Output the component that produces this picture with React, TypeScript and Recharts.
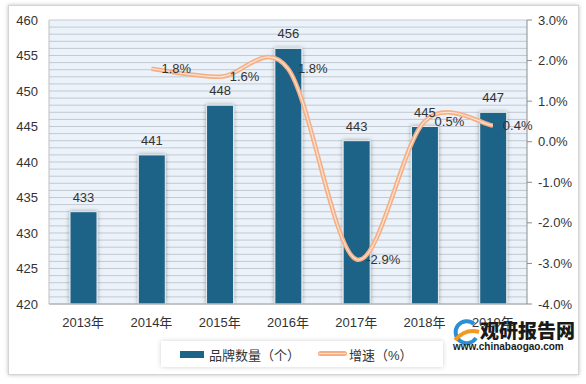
import React from 'react'
import {
  ComposedChart,
  Bar,
  Line,
  XAxis,
  YAxis,
  CartesianGrid,
  LabelList
} from 'recharts'

const years = ['2013年', '2014年', '2015年', '2016年', '2017年', '2018年', '2019年']
const brandCounts = [433, 441, 448, 456, 443, 445, 447]
const growthRates: (number | null)[] = [null, 1.8, 1.6, 1.8, -2.9, 0.5, 0.4]

const leftTicks = [420, 425, 430, 435, 440, 445, 450, 455, 460]
const rightTicks = [-4, -3, -2, -1, 0, 1, 2, 3]
// light grid lines, one per brand
const gridLines = Array.from({ length: 41 }, (_, i) => 420 + i)

const data = years.map((year, i) => ({
  year,
  count: brandCounts[i],
  growth: growthRates[i]
}))

const BAR = '#1B6387'
const LINE_OUT = '#F5AE85'
const LINE_IN = '#FCE1CF'
const FONT = "'Liberation Sans', 'Noto Sans CJK SC', sans-serif"

// smoothing close to what office charts draw (catmull-rom style)
function smoothCurve(context: any) {
  let pts: [number, number][] = []
  return {
    areaStart() {},
    areaEnd() {},
    lineStart() {
      pts = []
    },
    lineEnd() {
      const n = pts.length
      if (n === 0) return
      context.moveTo(pts[0][0], pts[0][1])
      for (let i = 0; i < n - 1; i++) {
        const p0 = pts[Math.max(i - 1, 0)]
        const p1 = pts[i]
        const p2 = pts[i + 1]
        const p3 = pts[Math.min(i + 2, n - 1)]
        context.bezierCurveTo(
          p1[0] + (p2[0] - p0[0]) / 6,
          p1[1] + (p2[1] - p0[1]) / 6,
          p2[0] - (p3[0] - p1[0]) / 6,
          p2[1] - (p3[1] - p1[1]) / 6,
          p2[0],
          p2[1]
        )
      }
    },
    point(x: number, y: number) {
      pts.push([+x, +y])
    }
  }
}

const tickStyle = { fontSize: 13, fill: '#333', fontFamily: FONT }

export default function App() {
  return (
    <div style={{ position: 'absolute', left: 0, top: 0, width: 586, height: 384, background: '#fff' }}>
      <div
        style={{
          position: 'absolute',
          left: 8,
          top: 5,
          width: 569,
          height: 368,
          border: '1px solid #d4d4d4',
          boxShadow: '0 0 4px rgba(0,0,0,0.25)',
          background: '#fff'
        }}
      />
      <div style={{ position: 'absolute', left: 0, top: 0 }}>
        <ComposedChart
          width={586}
          height={384}
          data={data}
          margin={{ top: 20, right: 8, bottom: 50, left: 8 }}
          barCategoryGap={0}
        >
          <defs>
            <filter id="barShadow" x="-30%" y="-10%" width="160%" height="120%">
              <feDropShadow dx="0" dy="0" stdDeviation="2" floodColor="#000" floodOpacity="0.35" />
            </filter>
          </defs>
          <CartesianGrid
            yAxisId="grid"
            vertical={false}
            stroke="#C3C9D0"
            fill="#EBF2F9"
          />
          <XAxis
            dataKey="year"
            height={30}
            tick={tickStyle}
            tickLine={false}
            tickSize={0}
            tickMargin={14}
            axisLine={{ stroke: '#A6A6A6' }}
          />
          <YAxis
            yAxisId="left"
            width={41}
            domain={[420, 460]}
            ticks={leftTicks}
            tick={tickStyle}
            tickLine={false}
            tickSize={0}
            tickMargin={11}
            axisLine={{ stroke: '#BFBFBF' }}
            allowDataOverflow
          />
          <YAxis
            yAxisId="right"
            orientation="right"
            width={51}
            domain={[-4, 3]}
            ticks={rightTicks}
            tick={tickStyle}
            tickSize={5}
            tickMargin={6}
            tickLine={{ stroke: '#8C8C8C' }}
            axisLine={{ stroke: '#8C8C8C' }}
            tickFormatter={(v: number) => `${v.toFixed(1)}%`}
            allowDataOverflow
          />
          <YAxis
            yAxisId="grid"
            hide
            width={0}
            domain={[420, 460]}
            ticks={gridLines}
            interval={0}
            allowDataOverflow
          />
          <Bar
            yAxisId="left"
            dataKey="count"
            barSize={27}
            fill={BAR}
            stroke="#E9EEF2"
            strokeWidth={1}
            filter="url(#barShadow)"
            isAnimationActive={false}
          >
            <LabelList dataKey="count" position="top" offset={10} style={tickStyle} />
          </Bar>
          <Line
            yAxisId="right"
            dataKey="growth"
            type={smoothCurve as any}
            stroke={LINE_OUT}
            strokeWidth={4.5}
            dot={false}
            activeDot={false}
            isAnimationActive={false}
          />
          <Line
            yAxisId="right"
            dataKey="growth"
            type={smoothCurve as any}
            stroke={LINE_IN}
            strokeWidth={1.3}
            dot={false}
            activeDot={false}
            isAnimationActive={false}
          >
            <LabelList
              dataKey="growth"
              position="right"
              offset={10}
              style={tickStyle}
              formatter={(v: any) => (v == null ? '' : `${v}%`)}
            />
          </Line>
        </ComposedChart>
      </div>

      {/* legend */}
      <div
        style={{
          position: 'absolute',
          left: 161,
          top: 341,
          width: 282,
          height: 26,
          background: '#fff',
          boxShadow: '0 0 5px rgba(0,0,0,0.18)',
          fontFamily: FONT,
          fontSize: 13,
          color: '#333'
        }}
      >
        <div style={{ position: 'absolute', left: 19, top: 10, width: 24, height: 7, background: BAR }} />
        <div style={{ position: 'absolute', left: 48, top: 4, whiteSpace: 'nowrap' }}>品牌数量（个）</div>
        <div style={{ position: 'absolute', left: 157, top: 10, width: 29, height: 5, background: LINE_OUT, borderRadius: 3 }} />
        <div style={{ position: 'absolute', left: 158, top: 12, width: 27, height: 1.3, background: LINE_IN }} />
        <div style={{ position: 'absolute', left: 188, top: 4, whiteSpace: 'nowrap' }}>增速（%）</div>
      </div>

      {/* watermark */}
      <svg style={{ position: 'absolute', left: 450, top: 316 }} width={32} height={32}>
        <path d="M24 8 A11 11 0 1 0 26 22" fill="none" stroke="#2C8FD6" strokeWidth={4} />
        <path d="M5 24 Q16 12 29 16" fill="none" stroke="#F39A1E" strokeWidth={4} />
      </svg>
      <div
        style={{
          position: 'absolute',
          left: 480,
          top: 319,
          fontFamily: "'Noto Sans CJK SC', sans-serif",
          fontWeight: 900,
          fontSize: 19,
          color: '#1a1a1a',
          whiteSpace: 'nowrap',
          lineHeight: '22px'
        }}
      >
        观研报告网
      </div>
      <div
        style={{
          position: 'absolute',
          left: 453,
          top: 341,
          fontFamily: "'Liberation Sans', sans-serif",
          fontWeight: 700,
          fontSize: 10,
          color: '#1a1a1a',
          whiteSpace: 'nowrap',
          lineHeight: '12px'
        }}
      >
        www.chinabaogao.com
      </div>
    </div>
  )
}
